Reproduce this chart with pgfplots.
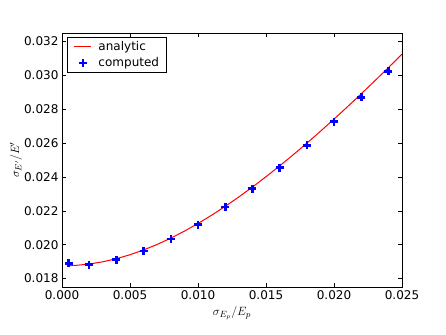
\documentclass[border=0pt]{standalone}
\usepackage{pgfplots}
\pgfplotsset{compat=1.18}
\usepackage{fontspec}
\setmainfont{DejaVu Sans}
\pgfplotsset{
  longline legend/.style={legend image code/.code={\path[draw=none] (0pt,0pt) -- (24pt,0pt); \draw[##1] (5pt,0pt) -- (22pt,0pt);}},
  centermark legend/.style={legend image code/.code={\path[draw=none] (0pt,0pt) -- (24pt,0pt); \draw[##1] plot coordinates {(13.5pt,0pt)};}},
}
\begin{document}
\begin{tikzpicture}
\begin{axis}[
  at={(0pt,0pt)}, anchor=south west,
  scale only axis, width=340pt, height=254pt,
  xmin=0, xmax=0.025, ymin=0.0175, ymax=0.0325,
  xtick={0,0.005,0.010,0.015,0.020,0.025},
  ytick={0.018,0.020,0.022,0.024,0.026,0.028,0.030,0.032},
  scaled ticks=false,
  xticklabel style={/pgf/number format/.cd, fixed, fixed zerofill, precision=3},
  yticklabel style={/pgf/number format/.cd, fixed, fixed zerofill, precision=3},
  /pgf/number format/assume math mode=true,
  tick label style={font=\fontsize{12}{14}\selectfont},
  tick align=inside, tick pos=both,
  major tick length=4pt,
  tick style={black, line width=0.5pt},
  axis line style={black, line width=0.8pt},
  xlabel={$\sigma_{E_p}/E_p$},
  ylabel={$\sigma_{E'}/E'$},
  xlabel style={font=\fontsize{13}{14}\selectfont},
  ylabel style={font=\fontsize{13}{14}\selectfont, yshift=-5pt},
  legend style={at={(0.015,0.985)}, anchor=north west, draw=black, line width=0.8pt,
    font=\fontsize{12}{14}\selectfont, row sep=2pt, inner sep=2pt,
    nodes={inner xsep=5pt}},
  legend cell align=left,
]
\addplot[red, line width=1pt, no marks, longline legend] coordinates {
(0.0005,0.018757) (0.001,0.018777) (0.002,0.018856) (0.003,0.018988)
(0.004,0.019172) (0.005,0.019405) (0.006,0.019687) (0.007,0.020014)
(0.008,0.020385) (0.009,0.020798) (0.010,0.021250) (0.011,0.021738)
(0.012,0.022261) (0.013,0.022816) (0.014,0.023400) (0.015,0.024012)
(0.016,0.024649) (0.017,0.025309) (0.018,0.025991) (0.019,0.026694)
(0.020,0.027415) (0.021,0.028152) (0.022,0.028906) (0.023,0.029674)
(0.024,0.030456) (0.025,0.031250)
};
\addlegendentry{analytic}
\addplot[only marks, blue, mark=+, mark size=4pt, mark options={line width=2.6pt}, centermark legend] coordinates {
(0.0005,0.01890) (0.002,0.01882) (0.004,0.01912) (0.006,0.01963)
(0.008,0.02034) (0.010,0.02118) (0.012,0.02222) (0.014,0.02330)
(0.016,0.02455) (0.018,0.02586) (0.020,0.02726) (0.022,0.02870)
(0.024,0.03024)
};
\addlegendentry{computed}
\end{axis}
\path[use as bounding box] (-62pt,-47pt) rectangle (384pt,287pt);
\end{tikzpicture}
\end{document}
